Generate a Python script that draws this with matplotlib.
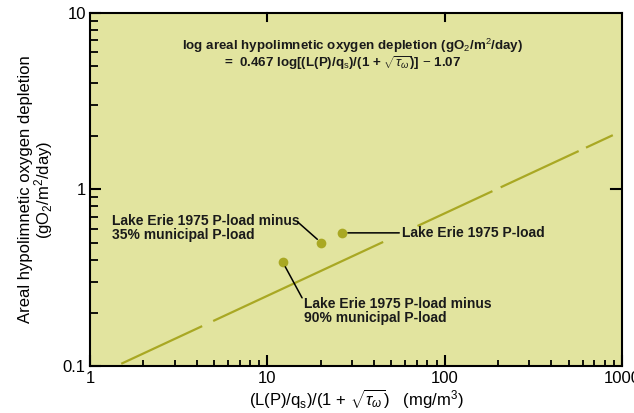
import numpy as np
import matplotlib
matplotlib.use("Agg")
import matplotlib.pyplot as plt
from matplotlib.ticker import LogLocator, NullFormatter

plt.rcParams['font.family'] = ['Liberation Sans', 'DejaVu Sans']
plt.rcParams['mathtext.fontset'] = 'custom'
plt.rcParams['mathtext.rm'] = 'Liberation Sans'
plt.rcParams['mathtext.it'] = 'Liberation Sans:italic'
plt.rcParams['mathtext.bf'] = 'Liberation Sans:bold'

# regression from the equation printed on the chart
slope = 0.467
intercept = -1.07
# x-ranges where the printed line is drawn (broken around labels)
line_pieces = [(1.5, 4.29), (4.95, 45.0), (70.3, 186), (207, 570), (627, 888)]

# Lake Erie scenarios
labels = ["Lake Erie 1975 P-load",
          "Lake Erie 1975 P-load minus\n35% municipal P-load",
          "Lake Erie 1975 P-load minus\n90% municipal P-load"]
x_pts = [26.5, 20.2, 12.2]
y_pts = [0.567, 0.497, 0.388]

olive = '#a9a823'
paper = '#e2e49f'

fig = plt.figure(figsize=(6.34, 4.13), dpi=100)
ax = fig.add_axes([0.142, 0.114, 0.839, 0.855])
ax.set_facecolor(paper)
ax.set_xscale('log')
ax.set_yscale('log')
ax.set_xlim(1, 1000)
ax.set_ylim(0.1, 10)

for x0, x1 in line_pieces:
    xf = np.geomspace(x0, x1, 50)
    yf = 10 ** (slope * np.log10(xf) + intercept)
    ax.plot(xf, yf, color=olive, lw=1.6, solid_capstyle='butt')

ax.plot(x_pts, y_pts, 'o', color=olive, ms=7, mec='none', zorder=3)

tk = dict(fontsize=10, fontweight='bold', color='#1a1a1a')
conn = dict(arrowstyle='-', color='black', lw=1.1, shrinkA=0, shrinkB=4)

# callouts
ax.annotate(labels[0], xy=(x_pts[0], y_pts[0]), xytext=(57.5, y_pts[0]),
            va='center', ha='left', **tk, arrowprops=conn)
ax.text(1.33, 0.605, labels[1], va='center', ha='left', linespacing=1.0, **tk)
ax.annotate("", xy=(x_pts[1], y_pts[1]), xytext=(14.8, 0.655), arrowprops=conn)
ax.text(16.0, 0.206, labels[2], va='center', ha='left', linespacing=1.0, **tk)
ax.annotate("", xy=(x_pts[2], y_pts[2]), xytext=(15.7, 0.243), arrowprops=conn)

# equation
eq = dict(tk, fontsize=9.6)
ax.text(0.173, 0.906,
        r"log areal hypolimnetic oxygen depletion (gO$_2$/m$^2$/day)",
        transform=ax.transAxes, ha='left', va='center', **eq)
ax.text(0.252, 0.857,
        r"=  0.467 log[(L(P)/q$_\mathrm{s}$)/(1 + $\sqrt{\tau_\omega}$)] $-$ 1.07",
        transform=ax.transAxes, ha='left', va='center', **eq)

# axes styling
for s in ax.spines.values():
    s.set_linewidth(1.5)
ax.tick_params(which='both', direction='in', top=False, right=False,
               labelsize=12)
ax.tick_params(axis='x', pad=4)
ax.tick_params(axis='y', pad=3)
ax.tick_params(which='major', length=8, width=1.5)
ax.tick_params(axis='x', which='minor', length=4.5, width=1.3)
ax.tick_params(axis='y', which='minor', length=6, width=1.3)
ax.xaxis.set_minor_locator(LogLocator(base=10, subs=np.arange(2, 10)))
ax.yaxis.set_minor_locator(LogLocator(base=10, subs=np.arange(2, 10)))
ax.xaxis.set_minor_formatter(NullFormatter())
ax.yaxis.set_minor_formatter(NullFormatter())
ax.set_xticks([1, 10, 100, 1000])
ax.set_xticklabels(['1', '10', '100', '1000'])
ax.set_yticks([0.1, 1, 10])
ax.set_yticklabels(['0.1', '1', '10'])

# inward major ticks on the top and right frame
for xv in [10, 100]:
    ax.plot([xv, xv], [10, 10 ** (1 - 8 / 176.5)], color='black', lw=1.5,
            clip_on=False)
ax.plot([10 ** (3 - 11 / 177), 1000], [1, 1], color='black', lw=1.5)

ax.set_xlabel(r"(L(P)/q$_\mathrm{s}$)/(1 + $\sqrt{\tau_\omega}$)   (mg/m$^3$)",
              fontsize=12, labelpad=1)
ax.set_ylabel("Areal hypolimnetic oxygen depletion\n(gO$_2$/m$^2$/day)",
              fontsize=12, linespacing=0.95)
ax.yaxis.set_label_coords(-0.066, 0.5)

fig.savefig('out.png', dpi=100)
